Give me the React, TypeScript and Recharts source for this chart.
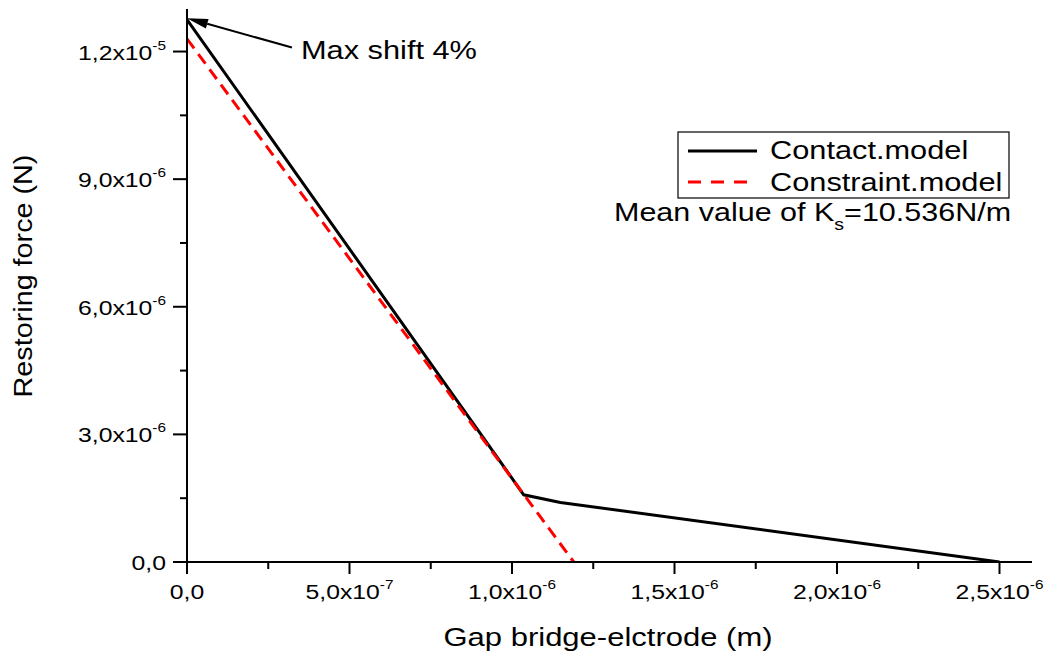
import { LineChart, Line, XAxis, YAxis, ReferenceLine } from 'recharts';

// Contact model (solid black)
const contactX = [0, 1.036e-6, 1.149e-6, 2.5e-6];
const contactY = [1.275e-5, 1.58e-6, 1.4e-6, 0];

// Constraint model (dashed red)
const constraintX = [0, 1.19e-6];
const constraintY = [1.23e-5, 0];

const xMajor = [0, 5e-7, 1e-6, 1.5e-6, 2e-6, 2.5e-6];
const xMinor = [2.5e-7, 7.5e-7, 1.25e-6, 1.75e-6, 2.25e-6];
const yMajor = [0, 3e-6, 6e-6, 9e-6, 1.2e-5];
const yMinor = [1.5e-6, 4.5e-6, 7.5e-6, 1.05e-5];

// annotation arrow
const arrowTail = { x: 3.23e-7, y: 1.2094e-5 };
const arrowTip = { x: 0, y: 1.2785e-5 };

const series = [
  { name: 'Contact.model', color: '#000000', dash: undefined as string | undefined },
  { name: 'Constraint.model', color: '#ff0000', dash: '12 7' },
];

const contactData = contactX.map((x, i) => ({ x, y: contactY[i] }));
const constraintData = constraintX.map((x, i) => ({ x, y: constraintY[i] }));

const FONT = "Arial, 'Liberation Sans', sans-serif";

function sci(v: number) {
  if (v === 0) return { base: '0,0', exp: '' };
  const e = Math.floor(Math.log10(v) + 1e-9);
  const m = (v / Math.pow(10, e)).toFixed(1).replace('.', ',');
  return { base: `${m}x10`, exp: String(e) };
}

const isMajor = (list: number[], v: number) => list.some((t) => Math.abs(t - v) < 1e-12);

const XTick = (props: any) => {
  const { x, y, payload } = props;
  const major = isMajor(xMajor, payload.value);
  const s = sci(payload.value);
  return (
    <g>
      <line x1={x} x2={x} y1={y} y2={y + (major ? 12 : 7)} stroke="#000" strokeWidth={2} />
      {major && (
        <g transform={`translate(${x},${y + 37}) scale(1.18,1)`}>
          <text textAnchor="middle" fontSize={21} fill="#000" fontFamily={FONT}>
            {s.base}
            {s.exp && (
              <tspan dy={-10} fontSize={13}>
                {s.exp}
              </tspan>
            )}
          </text>
        </g>
      )}
    </g>
  );
};

const YTick = (props: any) => {
  const { x, y, payload } = props;
  const major = isMajor(yMajor, payload.value);
  const s = sci(payload.value);
  return (
    <g>
      <line x1={x - (major ? 14 : 7)} x2={x} y1={y} y2={y} stroke="#000" strokeWidth={2} />
      {major && (
        <g transform={`translate(${x - 21},${y + 8}) scale(1.18,1)`}>
          <text textAnchor="end" fontSize={21} fill="#000" fontFamily={FONT}>
            {s.base}
            {s.exp && (
              <tspan dy={-10} fontSize={13}>
                {s.exp}
              </tspan>
            )}
          </text>
        </g>
      )}
    </g>
  );
};

const ArrowShape = (props: any) => {
  const { x1, y1, x2, y2 } = props;
  const ang = Math.atan2(y2 - y1, x2 - x1);
  const len = 21;
  const hw = 5;
  const bx = x2 - len * Math.cos(ang);
  const by = y2 - len * Math.sin(ang);
  const px = -Math.sin(ang) * hw;
  const py = Math.cos(ang) * hw;
  return (
    <g>
      <line x1={x1} y1={y1} x2={bx} y2={by} stroke="#000" strokeWidth={2} />
      <polygon points={`${x2},${y2} ${bx + px},${by + py} ${bx - px},${by - py}`} fill="#000" />
      <g transform={`translate(${x1 + 9},${y1 + 11}) scale(1.23,1)`}>
        <text fontSize={25} fill="#000" fontFamily={FONT}>
          Max shift 4%
        </text>
      </g>
    </g>
  );
};

export default function App() {
  return (
    <div style={{ position: 'absolute', left: 0, top: 0, width: 1045, height: 654, background: '#fff' }}>
      <LineChart width={1045} height={654} margin={{ top: 9, right: 13, left: 0, bottom: 0 }}>
        <XAxis
          type="number"
          dataKey="x"
          domain={[0, 2.6e-6]}
          ticks={[...xMajor, ...xMinor].sort((a, b) => a - b)}
          interval={0}
          tick={<XTick />}
          tickLine={false}
          tickSize={0}
          tickMargin={0}
          height={92}
          axisLine={{ stroke: '#000', strokeWidth: 2 }}
          allowDataOverflow
        />
        <YAxis
          type="number"
          dataKey="y"
          domain={[0, 1.3e-5]}
          ticks={[...yMajor, ...yMinor].sort((a, b) => a - b)}
          interval={0}
          tick={<YTick />}
          tickLine={false}
          tickSize={0}
          tickMargin={0}
          width={187}
          axisLine={{ stroke: '#000', strokeWidth: 2 }}
          allowDataOverflow
        />
        <Line
          data={contactData}
          dataKey="y"
          name={series[0].name}
          stroke={series[0].color}
          strokeWidth={3}
          dot={false}
          isAnimationActive={false}
        />
        <Line
          data={constraintData}
          dataKey="y"
          name={series[1].name}
          stroke={series[1].color}
          strokeWidth={3}
          strokeDasharray={series[1].dash}
          dot={false}
          isAnimationActive={false}
        />
        <ReferenceLine
          segment={[arrowTail, arrowTip]}
          shape={<ArrowShape />}
          ifOverflow="visible"
        />
      </LineChart>
      <svg
        width={1045}
        height={654}
        style={{ position: 'absolute', left: 0, top: 0, pointerEvents: 'none' }}
      >
        <rect x={678} y={132} width={331} height={66} fill="none" stroke="#000" strokeWidth={1.2} />
        {series.map((s, i) => (
          <g key={s.name}>
            <line
              x1={688}
              x2={757}
              y1={151 + i * 31}
              y2={151 + i * 31}
              stroke={s.color}
              strokeWidth={3}
              strokeDasharray={s.dash ? '13 10' : undefined}
            />
            <g transform={`translate(770,${159 + i * 32}) scale(1.23,1)`}>
              <text fontSize={25} fill="#000" fontFamily={FONT}>
                {s.name}
              </text>
            </g>
          </g>
        ))}
        <g transform="translate(614,221) scale(1.22,1)">
          <text fontSize={25} fill="#000" fontFamily={FONT}>
            Mean value of K
            <tspan dy={9} fontSize={16}>
              s
            </tspan>
            <tspan dy={-9}>=10.536N/m</tspan>
          </text>
        </g>
        <g transform="translate(608,646) scale(1.24,1)">
          <text fontSize={25} fill="#000" fontFamily={FONT} textAnchor="middle">
            Gap bridge-elctrode (m)
          </text>
        </g>
        <g transform="translate(32,276) rotate(-90) scale(1.15,1)">
          <text fontSize={25} fill="#000" fontFamily={FONT} textAnchor="middle">
            Restoring force (N)
          </text>
        </g>
      </svg>
    </div>
  );
}
